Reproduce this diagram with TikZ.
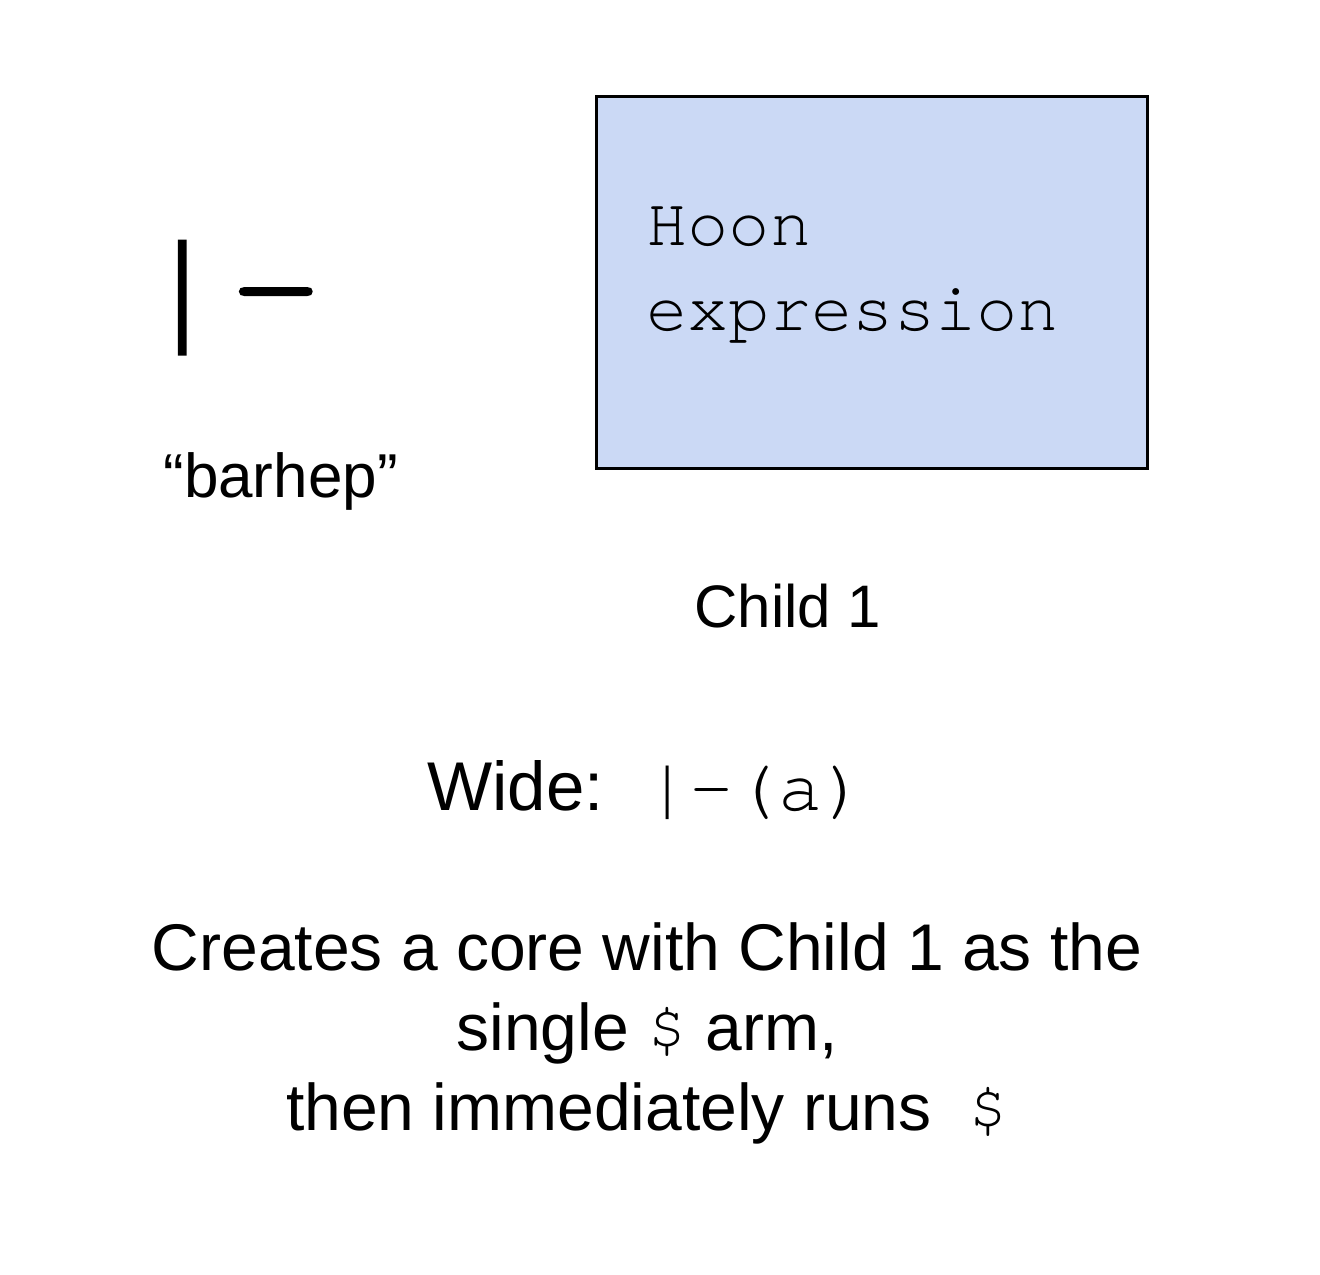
\documentclass[tikz,border=0pt]{standalone}
\usepackage{fontspec}
\setmainfont{Liberation Sans}
\setmonofont{TeX Gyre Cursor}
\usepackage{xcolor}
\usepackage{tikz}

\definecolor{hoonblue}{RGB}{203,217,245}

\begin{document}
\begin{tikzpicture}[x=0.5pt,y=0.5pt,yscale=-1,xscale=1]
\tikzset{label text/.style={anchor=base west,inner sep=0pt,font=\fontsize{30}{36}\selectfont},
  desc text/.style={anchor=base,inner sep=0pt,font=\fontsize{33}{40}\selectfont}}
\useasboundingbox (0,0) rectangle (1320,1274);
%Shape: Rectangle
\draw [line width=1.5pt, fill=hoonblue] (596.5,96) rectangle (1147,468) ;
% Text Node
\node (rune) [anchor=base west,inner sep=0pt,font=\ttfamily\addfontfeatures{FakeBold=1.6}\fontsize{78}{80}\selectfont] at (135,335) {|-};
% Text Node
\node (name) [label text,font=\fontsize{31}{36}\selectfont] at (163,497) {“barhep”};
% Text Node
\node (hoon) [anchor=base west,inner sep=0pt,align=left,font=\ttfamily\fontsize{34.4}{42.5}\selectfont] at (646,330) {Hoon\\expression};
% Text Node
\node (child) [label text] at (694,627) {Child 1};
% Text Node
\node (wide) [label text,font=\fontsize{34.5}{40}\selectfont] at (427,810) {Wide:\hspace{21pt}{\ttfamily\fontsize{36.8}{40}\selectfont|-(a)}};
% Text Node
\node (line1) [desc text] at (647,970) {Creates a core with Child 1 as the};
\node (line2) [desc text] at (647,1050) {single {\ttfamily\$} arm,};
\node (line3) [desc text] at (647,1130) {then immediately runs~~{\ttfamily\$}};
\end{tikzpicture}
\end{document}
